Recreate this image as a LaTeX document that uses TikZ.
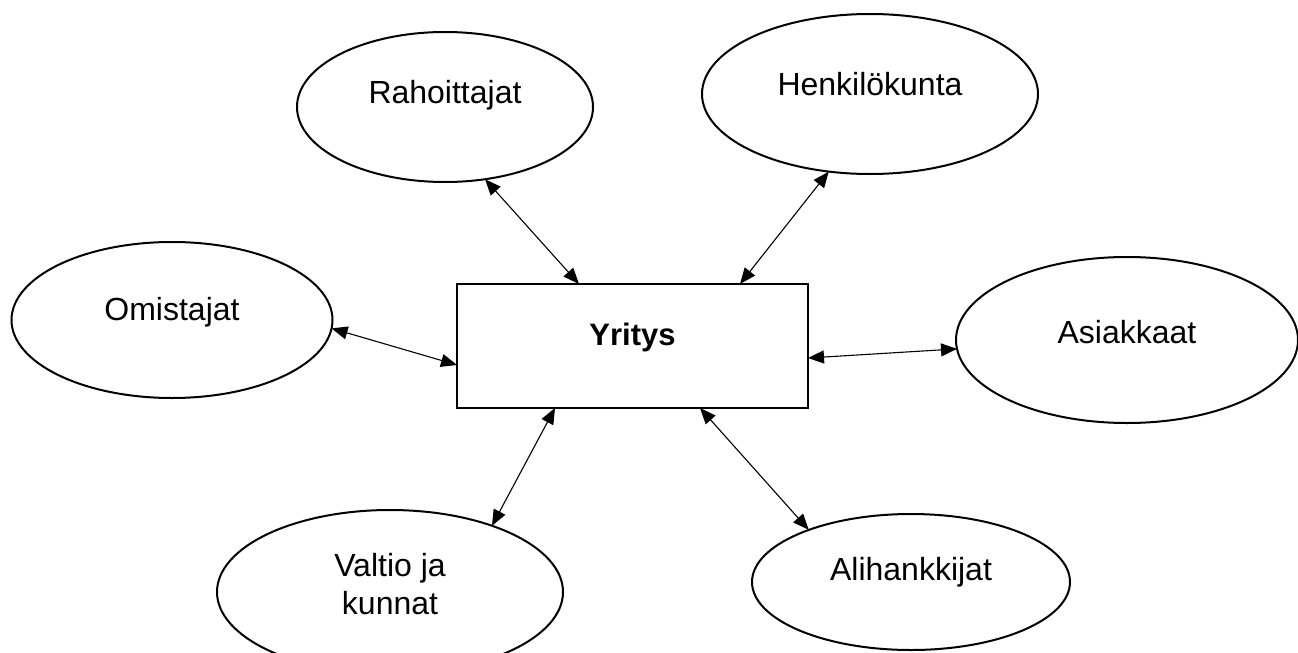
\documentclass[tikz,border=0pt]{standalone}
\usepackage{fontspec}
\setmainfont{Liberation Sans}
\usetikzlibrary{arrows.meta,shapes.geometric}

\begin{document}
\begin{tikzpicture}[x=1pt, y=-1pt,
    party/.style={draw, ellipse, line width=2pt, inner sep=0pt, outer sep=0pt},
    firm/.style={draw, rectangle, line width=2pt, inner sep=0pt, outer sep=0pt,
        minimum width=351pt, minimum height=124pt},
    link/.style={{Triangle[length=16pt,width=13pt]}-{Triangle[length=16pt,width=13pt]}, line width=1.1pt},
    every label/.style={font=\fontsize{32}{38}\selectfont, align=center, inner sep=0pt}]
\useasboundingbox (0,0) rectangle (1298,653);

% Company
\node[firm, label={[yshift=9pt, font=\fontsize{31}{37}\selectfont\bfseries]center:Yritys}] (yr) at (632.5,346) {};

% Stakeholders
\node[party, minimum width=296pt, minimum height=150pt, label={[yshift=12pt]center:Rahoittajat}] (rah) at (445,107) {};
\node[party, minimum width=336pt, minimum height=160pt, label={[yshift=10pt]center:Henkilökunta}] (hen) at (870,94) {};
\node[party, minimum width=321pt, minimum height=156pt, label={[yshift=8pt]center:Omistajat}] (om) at (172,320) {};
\node[party, minimum width=342pt, minimum height=166pt, label={[yshift=8pt]center:Asiakkaat}] (asi) at (1127,340) {};
\node[party, minimum width=346pt, minimum height=164pt, label={[yshift=8pt]center:Valtio ja\\kunnat}] (val) at (390,592) {};
\node[party, minimum width=318pt, minimum height=136pt, label={[yshift=10pt]center:Alihankkijat}] (ali) at (911,582) {};

% Links
\draw[link] (rah.-61) -- ([xshift=122pt]yr.north west);
\draw[link] (hen.-118) -- ([xshift=-68pt]yr.north east);
\draw[link] (om.-3) -- ([yshift=-19pt]yr.west);
\draw[link] ([yshift=-12pt]yr.east) -- (asi.183);
\draw[link] ([xshift=98pt]yr.south west) -- (val.33);
\draw[link] ([xshift=243pt]yr.south west) -- (ali.153);

\end{tikzpicture}
\end{document}
